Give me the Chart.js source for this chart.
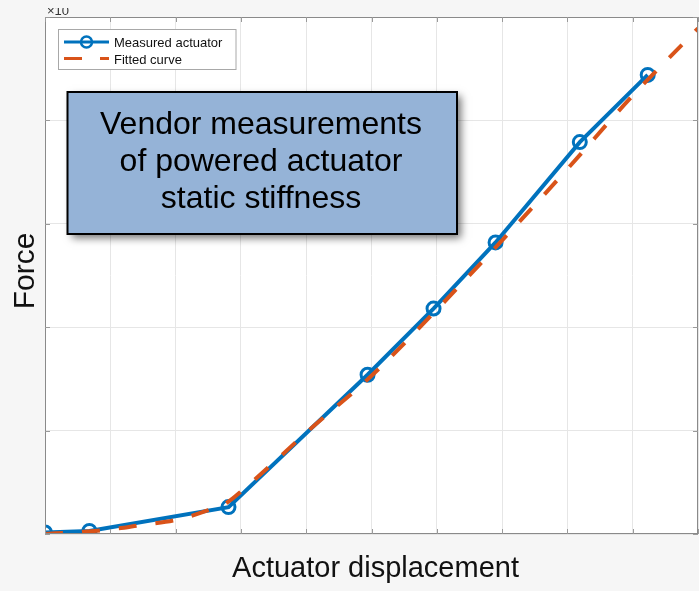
<!DOCTYPE html>
<html>
<head>
<meta charset="utf-8">
<script src="https://cdn.jsdelivr.net/npm/chart.js@4/dist/chart.umd.min.js"></script>
<style>
  html, body { margin:0; padding:0; background:#f6f6f6; }
  #wrap { width:699px; height:591px; }
</style>
</head>
<body>
<div id="wrap"><canvas id="chart" width="699" height="591"></canvas></div>
<script>
// data (x in grid units, force in grid units)
const measuredX = [0, 0.68, 2.81, 4.94, 5.95, 6.90, 8.19, 9.23];
const measuredForce = [0.015, 0.03, 0.26, 1.54, 2.18, 2.82, 3.79, 4.44];
const fittedX = [0, 0.5, 1, 1.5, 2, 2.5, 2.8, 3, 3.5, 4, 5, 6, 7, 8, 9, 10];
const fittedForce = [0, 0.02, 0.044, 0.09, 0.135, 0.23, 0.31, 0.41, 0.69, 0.98, 1.53, 2.17, 2.84, 3.53, 4.24, 4.89];
const xTicks = [0, 1, 2, 3, 4, 5, 6, 7, 8, 9, 10];
const yTicks = [0, 1, 2, 3, 4, 5];

const seriesNames = ['Measured actuator', 'Fitted curve'];
const noteLines = ['Vendor measurements', 'of powered actuator', 'static stiffness'];
const xTitle = 'Actuator displacement';
const yTitle = 'Force';

const BLUE = '#0072BD';
const ORANGE = '#D95319';
const AXIS = '#8a8a8a';
const FONT = '"Liberation Sans", Arial, Helvetica, sans-serif';

const toPts = (xs, ys)=>xs.map((x,i)=>({x, y: ys[i]}));

// background, box, inward ticks, note box, legend, titles
const matlabLook = {
  id: 'matlabLook',
  beforeDraw(chart){
    const {ctx, chartArea:a} = chart;
    ctx.save();
    ctx.fillStyle = '#f6f6f6';
    ctx.fillRect(0, 0, chart.width, chart.height);
    ctx.fillStyle = '#ffffff';
    ctx.fillRect(a.left, a.top, a.right - a.left, a.bottom - a.top);
    ctx.restore();
  },
  afterDatasetsDraw(chart){
    const {ctx, chartArea:a, scales} = chart;
    ctx.save();
    // axes box
    ctx.strokeStyle = AXIS;
    ctx.lineWidth = 1;
    ctx.strokeRect(a.left + 0.5, a.top + 0.5, a.right - a.left - 1, a.bottom - a.top - 1);
    // inward ticks
    const len = 5;
    ctx.strokeStyle = '#9a9a9a';
    ctx.beginPath();
    xTicks.forEach(v=>{
      const px = Math.round(scales.x.getPixelForValue(v)) + 0.5;
      ctx.moveTo(px, a.bottom); ctx.lineTo(px, a.bottom - len);
      ctx.moveTo(px, a.top); ctx.lineTo(px, a.top + len);
    });
    yTicks.forEach(v=>{
      const py = Math.round(scales.y.getPixelForValue(v)) + 0.5;
      ctx.moveTo(a.left, py); ctx.lineTo(a.left + len, py);
      ctx.moveTo(a.right, py); ctx.lineTo(a.right - len, py);
    });
    ctx.stroke();

    // exponent label, cut at the top like the screenshot
    ctx.save();
    ctx.beginPath();
    ctx.rect(0, 8, 200, 20);
    ctx.clip();
    ctx.fillStyle = '#333';
    ctx.font = '13px ' + FONT;
    ctx.textBaseline = 'alphabetic';
    ctx.fillText('\u00d710', 47, 15);
    ctx.restore();

    // note box with shadow
    const bx = 67.5, by = 92, bw = 389.5, bh = 142;
    ctx.save();
    ctx.shadowColor = 'rgba(0,0,0,0.55)';
    ctx.shadowBlur = 8;
    ctx.shadowOffsetX = 4;
    ctx.shadowOffsetY = 4;
    ctx.fillStyle = '#95b3d7';
    ctx.fillRect(bx, by, bw, bh);
    ctx.restore();
    ctx.strokeStyle = '#000';
    ctx.lineWidth = 2;
    ctx.strokeRect(bx, by, bw, bh);
    ctx.fillStyle = '#000';
    ctx.font = '32px ' + FONT;
    ctx.textAlign = 'center';
    ctx.textBaseline = 'alphabetic';
    const baselines = [133.5, 170.5, 207.5];
    noteLines.forEach((t,i)=> ctx.fillText(t, 261, baselines[i]));

    // legend
    ctx.fillStyle = '#fff';
    ctx.fillRect(58.5, 29.5, 177.5, 40);
    ctx.strokeStyle = '#a8a8a8';
    ctx.lineWidth = 1;
    ctx.strokeRect(58.5, 29.5, 177.5, 40);
    ctx.strokeStyle = BLUE;
    ctx.lineWidth = 3;
    ctx.beginPath(); ctx.moveTo(64, 42); ctx.lineTo(109, 42); ctx.stroke();
    ctx.lineWidth = 2.5;
    ctx.beginPath(); ctx.arc(86.5, 42, 5.5, 0, Math.PI*2); ctx.stroke();
    ctx.strokeStyle = ORANGE;
    ctx.lineWidth = 3;
    ctx.setLineDash([18, 18]);
    ctx.beginPath(); ctx.moveTo(64, 58.5); ctx.lineTo(109, 58.5); ctx.stroke();
    ctx.setLineDash([]);
    ctx.fillStyle = '#111';
    ctx.font = '13px ' + FONT;
    ctx.textAlign = 'left';
    ctx.fillText(seriesNames[0], 114, 46.5);
    ctx.fillText(seriesNames[1], 114, 63.5);

    // axis titles
    ctx.font = '29px ' + FONT;
    ctx.textAlign = 'center';
    ctx.fillText(xTitle, 375.5, 577);
    ctx.translate(33.5, 271);
    ctx.rotate(-Math.PI/2);
    ctx.font = '30px ' + FONT;
    ctx.fillText(yTitle, 0, 0);
    ctx.restore();
  }
};

new Chart(document.getElementById('chart'), {
  type: 'line',
  data: {
    datasets: [
      {
        label: seriesNames[0],
        data: toPts(measuredX, measuredForce),
        borderColor: BLUE,
        borderWidth: 4,
        pointRadius: 6.5,
        pointBorderWidth: 3,
        pointBorderColor: BLUE,
        pointBackgroundColor: 'rgba(0,0,0,0)',
        tension: 0,
        order: 1
      },
      {
        label: seriesNames[1],
        data: toPts(fittedX, fittedForce),
        borderColor: ORANGE,
        borderWidth: 4,
        borderDash: [18, 19],
        pointRadius: 0,
        cubicInterpolationMode: 'monotone',
        order: 0
      }
    ]
  },
  options: {
    responsive: false,
    animation: false,
    devicePixelRatio: 1,
    layout: { autoPadding: false, padding: { left: 45, top: 17, right: 1, bottom: 57 } },
    plugins: { legend: { display: false }, tooltip: { enabled: false } },
    scales: {
      x: {
        type: 'linear', min: 0, max: 10,
        afterBuildTicks: (s)=>{ s.ticks = xTicks.map(v=>({value:v})); },
        ticks: { display: false },
        grid: { color: '#e6e6e6', drawTicks: false, lineWidth: 1 },
        border: { display: false }
      },
      y: {
        type: 'linear', min: 0, max: 5,
        afterBuildTicks: (s)=>{ s.ticks = yTicks.map(v=>({value:v})); },
        ticks: { display: false },
        grid: { color: '#e6e6e6', drawTicks: false, lineWidth: 1 },
        border: { display: false }
      }
    }
  },
  plugins: [matlabLook]
});
</script>
</body>
</html>
